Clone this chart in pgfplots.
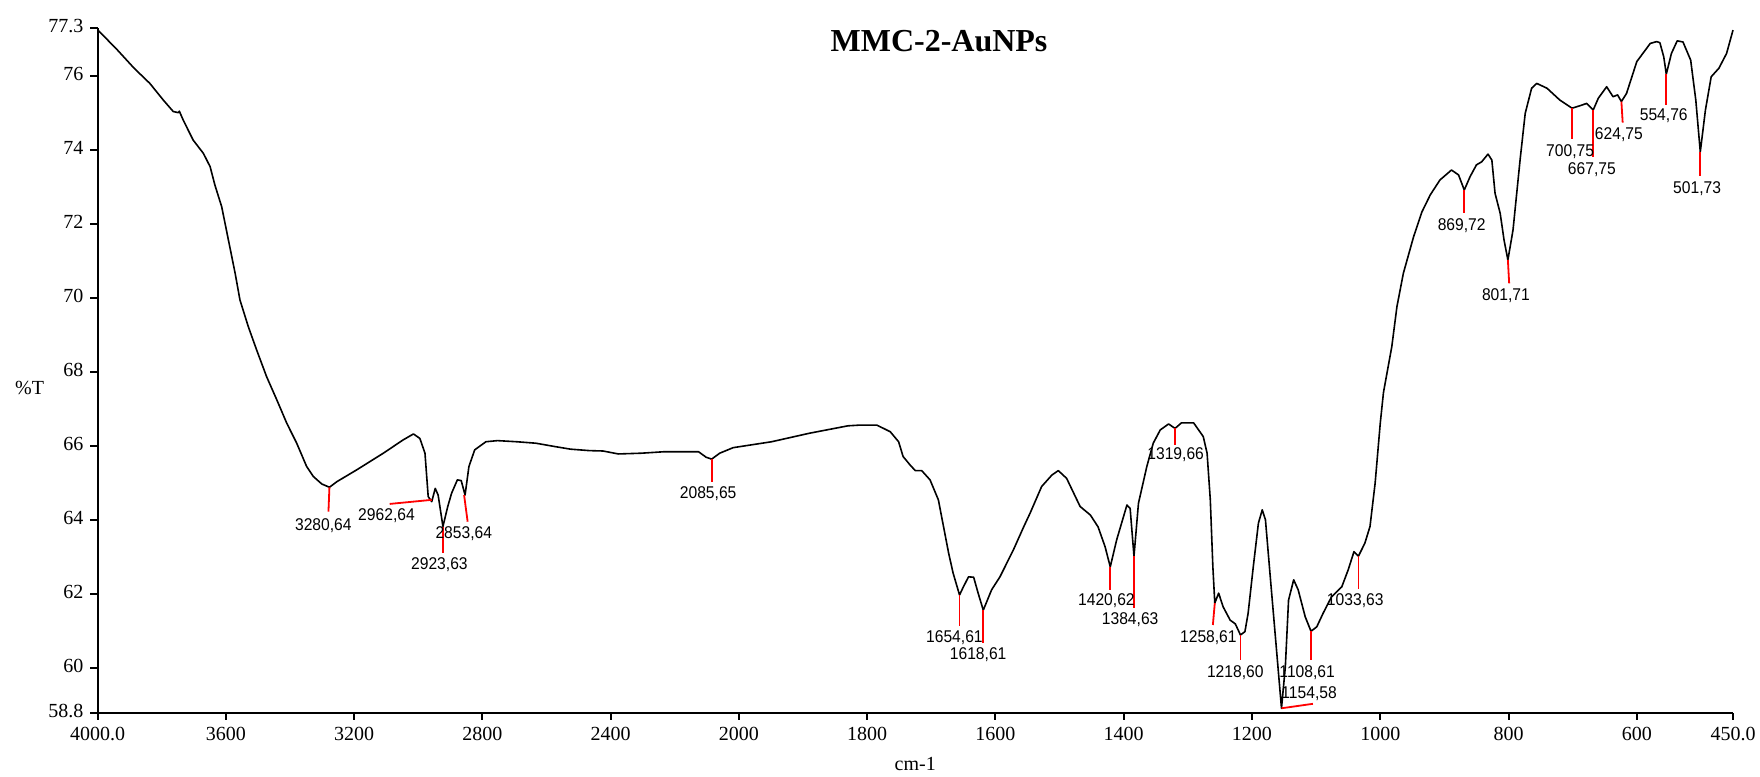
\documentclass[border=0pt]{standalone}
\usepackage{fontspec}
\setmainfont{Liberation Serif}
\newfontfamily\peakfont[FakeStretch=0.92]{Liberation Sans}
\usepackage{pgfplots}
\pgfplotsset{compat=1.18}

% FTIR transmittance spectrum (wavenumber in cm-1, %T)
\pgfplotstableread{
wn    T
4000  77.25
3940  76.72
3886  76.21
3837  75.80
3795  75.35
3764  75.04
3748  75.01
3745  75.05
3733  74.81
3702  74.27
3670  73.91
3649  73.55
3634  73.05
3613  72.47
3592  71.57
3571  70.67
3556  69.95
3530  69.23
3504  68.60
3473  67.88
3441  67.25
3410  66.62
3379  66.08
3348  65.45
3327  65.18
3301  64.98
3277  64.89
3254  65.04
3192  65.36
3109  65.81
3047  66.17
3015  66.33
2995  66.21
2979  65.81
2969  64.64
2958  64.50
2947  64.86
2938  64.68
2923  63.83
2908  64.37
2896  64.73
2878  65.09
2866  65.07
2854  64.68
2842  65.45
2824  65.90
2789  66.12
2753  66.15
2693  66.12
2633  66.08
2574  65.99
2526  65.92
2466  65.88
2424  65.87
2376  65.79
2305  65.81
2233  65.85
2126  65.85
2102  65.70
2085  65.65
2060  65.81
2018  65.96
1949  66.12
1890  66.35
1830  66.55
1811  66.57
1785  66.57
1764  66.39
1751  66.12
1744  65.72
1733  65.49
1725  65.34
1715  65.34
1702  65.09
1689  64.55
1681  63.83
1673  63.11
1666  62.57
1656  61.98
1650  62.20
1642  62.47
1634  62.46
1627  62.03
1619  61.57
1606  62.12
1593  62.47
1572  63.20
1556  63.82
1546  64.19
1528  64.91
1512  65.22
1502  65.34
1489  65.13
1468  64.37
1452  64.14
1440  63.82
1429  63.28
1421  62.74
1411  63.47
1395  64.41
1390  64.32
1384  63.03
1377  64.46
1364  65.45
1354  66.08
1343  66.44
1330  66.60
1320  66.48
1310  66.63
1291  66.63
1276  66.26
1270  65.81
1265  64.55
1261  62.74
1258  61.76
1252  62.03
1245  61.66
1234  61.30
1226  61.20
1218  60.90
1211  60.99
1206  61.49
1198  62.74
1190  63.92
1184  64.28
1179  64.01
1172  62.57
1164  60.95
1154  58.92
1148  60.04
1143  61.84
1135  62.39
1128  62.12
1117  61.39
1108  61.00
1099  61.12
1089  61.49
1076  61.93
1060  62.20
1050  62.66
1041  63.15
1034  63.03
1024  63.38
1016  63.83
1008  65.00
1000  66.62
995   67.45
982   68.69
974   69.77
964   70.67
948   71.66
935   72.33
922   72.79
907   73.19
889   73.46
878   73.33
869   72.92
860   73.28
850   73.60
842   73.68
832   73.89
826   73.73
821   72.83
813   72.29
807   71.57
801   71.03
793   71.84
782   73.73
774   74.99
764   75.67
756   75.80
740   75.67
720   75.35
701   75.13
690   75.19
678   75.26
668   75.08
660   75.40
647   75.71
637   75.44
630   75.49
624   75.31
616   75.53
600   76.39
579   76.88
569   76.93
564   76.90
558   76.52
554   76.05
546   76.61
537   76.95
528   76.92
516   76.43
508   75.35
501   73.95
493   75.08
484   75.98
472   76.21
460   76.61
450   77.24
}\spectrum

\begin{document}
\begin{tikzpicture}
\begin{axis}[
  scale only axis,
  width=817.7pt, height=342.4pt,
  % the range above 2000 cm-1 is drawn at half scale
  x coord trafo/.code={\pgfmathparse{#1>2000 ? 0.5*#1+1000 : #1}},
  x coord inv trafo/.code={\pgfmathparse{#1>2000 ? 2*#1-2000 : #1}},
  x dir=reverse,
  xmin=450, xmax=4000,
  ymin=58.8, ymax=77.3,
  axis x line*=bottom, axis y line*=left,
  axis line style={line width=1pt, -},
  tick align=outside,
  major tick length=3.6pt,
  tick style={line width=1pt, black},
  xtick={4000,3600,3200,2800,2400,2000,1800,1600,1400,1200,1000,800,600,450},
  xticklabels={4000.0,3600,3200,2800,2400,2000,1800,1600,1400,1200,1000,800,600,450.0},
  ytick={58.8,60,62,64,66,68,70,72,74,76,77.3},
  yticklabels={58.8,60,62,64,66,68,70,72,74,76,77.3},
  /pgf/number format/assume math mode=true,
  tick label style={font=\fontsize{10}{12}\selectfont},
  yticklabel style={yshift=1pt},
  xlabel={cm-1},
  xlabel style={at={(axis description cs:0.5,0)}, anchor=center, yshift=-25.65pt, font=\fontsize{10}{12}\selectfont},
  clip=false,
]
\addplot[black, line width=0.8pt, line join=round] table[x=wn, y=T] {\spectrum};

\node[font=\fontsize{10}{12}\selectfont] at (rel axis cs:0,0.474) [xshift=-34pt] {\%T};
\node[font=\bfseries\fontsize{16}{19}\selectfont, anchor=base] at (axis cs:1688,76.65) {MMC-2-AuNPs};

% peak markers
\begin{scope}[red, line width=0.9pt]
\draw (axis cs:3277,64.89) -- (axis cs:3280,64.23);
\draw (axis cs:2958,64.55) -- (axis cs:3089,64.44);
\draw (axis cs:2923,63.83) -- (axis cs:2923,63.12);
\draw (axis cs:2857,64.68) -- (axis cs:2846,63.96);
\draw (axis cs:2085,65.65) -- (axis cs:2085,65.04);
\draw (axis cs:1656,61.98) -- (axis cs:1656,61.14);
\draw (axis cs:1619,61.57) -- (axis cs:1619,60.68);
\draw (axis cs:1421,62.74) -- (axis cs:1421,62.11);
\draw (axis cs:1384,63.03) -- (axis cs:1384,61.62);
\draw (axis cs:1320,66.48) -- (axis cs:1320,66.03);
\draw (axis cs:1258,61.76) -- (axis cs:1261,61.17);
\draw (axis cs:1218,60.90) -- (axis cs:1218,60.22);
\draw (axis cs:1108,61.00) -- (axis cs:1108,60.22);
\draw (axis cs:1154,58.92) -- (axis cs:1105,59.04);
\draw (axis cs:1034,63.03) -- (axis cs:1034,62.13);
\draw (axis cs:869,72.92) -- (axis cs:869,72.31);
\draw (axis cs:801,71.03) -- (axis cs:799,70.40);
\draw (axis cs:701,75.13) -- (axis cs:701,74.29);
\draw (axis cs:668,75.08) -- (axis cs:668,73.80);
\draw (axis cs:624,75.31) -- (axis cs:622,74.74);
\draw (axis cs:554,76.05) -- (axis cs:554,75.22);
\draw (axis cs:501,73.95) -- (axis cs:501,73.30);
\end{scope}

\begin{scope}[every node/.style={font=\peakfont\fontsize{8.5}{10}\selectfont, inner sep=0pt}]
\node at (axis cs:3296,63.85) {3280,64};
\node at (axis cs:3099,64.11) {2962,64};
\node at (axis cs:2934,62.81) {2923,63};
\node at (axis cs:2858,63.65) {2853,64};
\node at (axis cs:2096,64.73) {2085,65};
\node at (axis cs:1664,60.83) {1654,61};
\node at (axis cs:1627,60.36) {1618,61};
\node at (axis cs:1427,61.83) {1420,62};
\node at (axis cs:1390,61.32) {1384,63};
\node at (axis cs:1319,65.77) {1319,66};
\node at (axis cs:1268,60.83) {1258,61};
\node at (axis cs:1226,59.89) {1218,60};
\node at (axis cs:1114,59.89) {1108,61};
\node at (axis cs:1111,59.31) {1154,58};
\node at (axis cs:1039,61.82) {1033,63};
\node at (axis cs:873,71.97) {869,72};
\node at (axis cs:804,70.06) {801,71};
\node at (axis cs:704,73.95) {700,75};
\node at (axis cs:670,73.48) {667,75};
\node at (axis cs:628,74.41) {624,75};
\node at (axis cs:558,74.92) {554,76};
\node at (axis cs:506,72.97) {501,73};
\end{scope}
\end{axis}
\pgfresetboundingbox
\path[use as bounding box] (-48.8pt,-31.65pt) rectangle (831.2pt,356.35pt);
\end{tikzpicture}
\end{document}
